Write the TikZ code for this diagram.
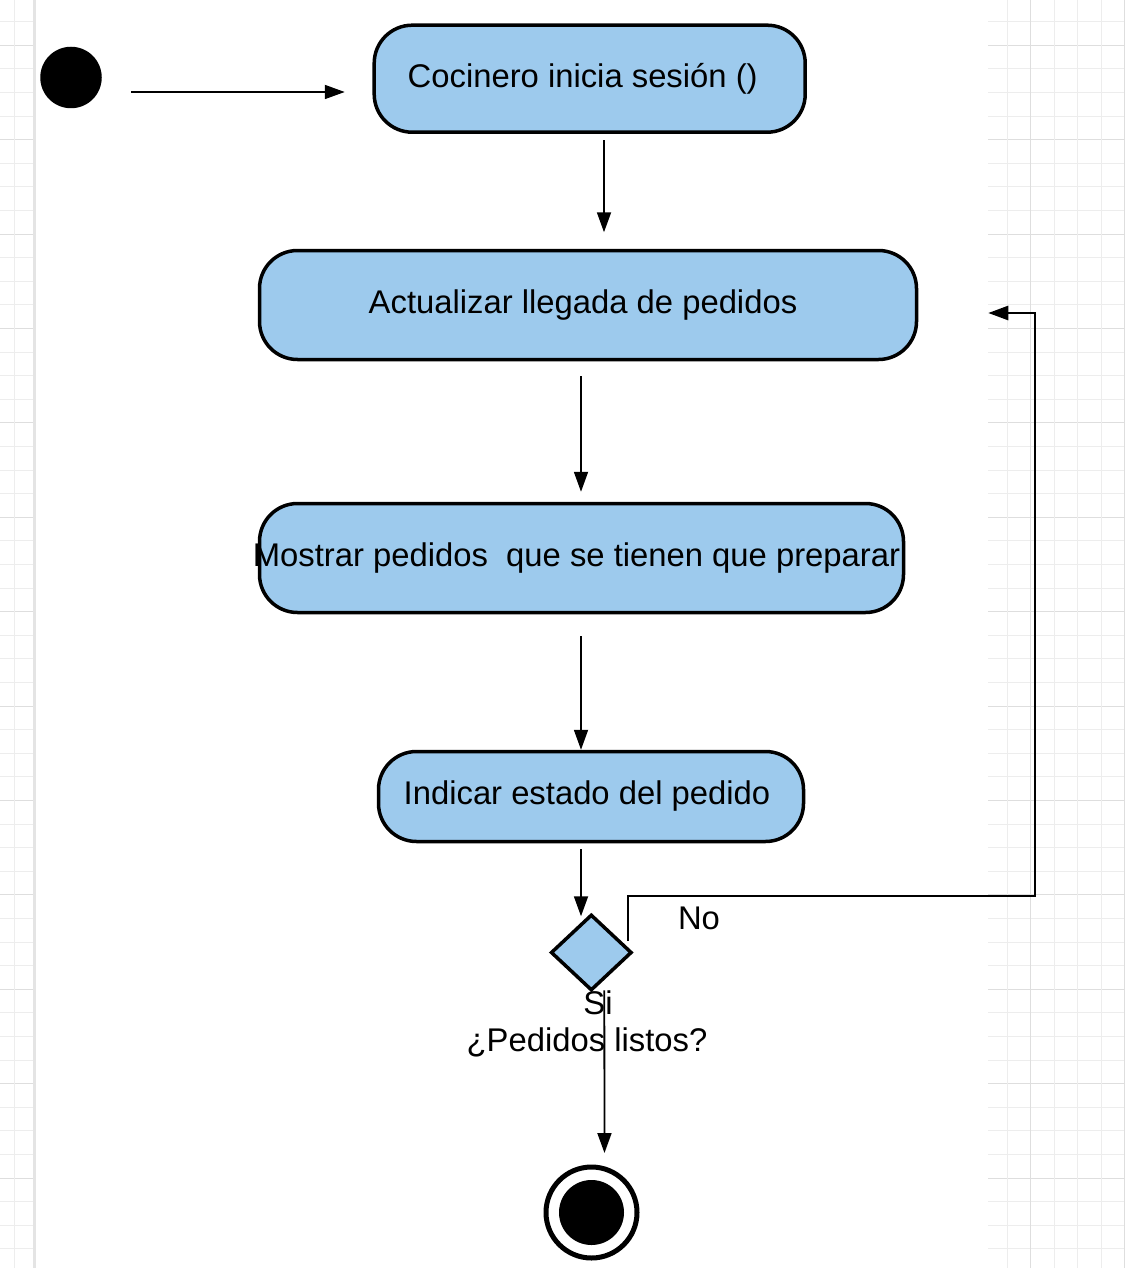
\documentclass[tikz,border=0pt]{standalone}
\usepackage{fontspec}
\setmainfont{Liberation Sans}
\usetikzlibrary{arrows.meta,shapes.geometric}
\definecolor{boxblue}{RGB}{157,202,237}
\definecolor{gridminor}{RGB}{237,237,237}
\definecolor{gridmajor}{RGB}{222,222,222}
\definecolor{gridbar}{RGB}{228,228,228}
\begin{document}
\begin{tikzpicture}[x=1pt,y=-1pt,
  actbox/.style={draw=black, line width=3.5pt, fill=boxblue, rounded corners=38pt, inner sep=0pt, font=\fontsize{32.8}{39}\selectfont},
  arr/.style={line width=1.8pt, -{Triangle[length=20pt,width=14pt]}},
  looparr/.style={line width=2.6pt, -{Triangle[length=20pt,width=14pt]}},
  lbl/.style={font=\fontsize{32.8}{39}\selectfont, inner sep=0pt}]
\useasboundingbox (0,0) rectangle (1125,1268);
\fill[white] (0,0) rectangle (1125,1268);
% grid
\foreach \k in {-1,...,51} {
  \draw[gridminor, line width=1pt] (0,{45.3+23.6*\k}) -- (33,{45.3+23.6*\k});
  \draw[gridminor, line width=1pt] (988,{45.3+23.6*\k}) -- (1125,{45.3+23.6*\k});
}
\foreach \k in {0,4,...,48} {
  \draw[gridmajor, line width=1pt] (0,{45.3+23.6*\k}) -- (33,{45.3+23.6*\k});
  \draw[gridmajor, line width=1pt] (988,{45.3+23.6*\k}) -- (1125,{45.3+23.6*\k});
}
\foreach \x in {14.3,1007.2,1054.2,1077.7,1101.2}
  \draw[gridminor, line width=1pt] (\x,0) -- (\x,1268);
\foreach \x in {1030.7,1124.7}
  \draw[gridmajor, line width=1pt] (\x,0) -- (\x,1268);
\draw[gridbar, line width=3pt] (34,0) -- (34,1268);

% nodes
\node[circle, fill=black, minimum size=61.5pt, inner sep=0pt] (start) at (71,77.5) {};
\node[actbox, minimum width=431pt, minimum height=107pt] (n1) at (589.7,78.7) {\hspace*{-14pt}Cocinero inicia sesión ()};
\node[actbox, minimum width=657pt, minimum height=109pt] (n2) at (588,305) {\hspace*{-10pt}Actualizar llegada de pedidos};
\node[actbox, minimum width=644pt, minimum height=109pt] (n3) at (581.5,558) {\makebox[0pt]{\hspace*{-10pt}Mostrar pedidos\ \ que se tienen que preparar}};
\node[actbox, minimum width=425pt, minimum height=90pt] (n4) at (591,796.5) {\hspace*{-8pt}Indicar estado del pedido};
\node[diamond, draw=black, line width=3.5pt, fill=boxblue, minimum width=81pt, minimum height=76pt, inner sep=0pt] (dec) at (591.3,952.5) {};
\node[circle, draw=black, line width=5pt, minimum size=91pt, inner sep=0pt] (fin) at (591.5,1212.5) {};
\fill[black] (fin.center) circle[radius=32.5pt];

% labels
\node[lbl] (lno) at (699,918) {No};
\node[lbl] (lsi) at (598,1003) {Si};
\node[lbl] (lq) at (587,1042) {¿Pedidos listos?};

% connectors
\coordinate (c1) at (1035,896);
\draw[arr, shorten <=29.5pt, shorten >=27.7pt] ([yshift=-14.5pt]start.east) -- ([yshift=-13.3pt]n1.west);
\draw[arr, shorten <=6.3pt, shorten >=16.5pt] ([xshift=14.3pt]n1.south) -- ([xshift=16pt]n2.north);
\draw[arr, shorten <=15pt, shorten >=10pt] ([xshift=-7pt]n2.south) -- ([xshift=-0.5pt]n3.north);
\draw[arr, shorten <=22pt] ([xshift=-0.5pt]n3.south) -- ([xshift=-10pt]n4.north);
\draw[arr, shorten <=6pt] ([xshift=-10pt]n4.south) -- ([xshift=-10.3pt,yshift=-3.5pt]dec.north);
\draw[looparr] ([xshift=36.7pt,yshift=11.5pt]dec.center) |- (c1) |- ([xshift=70pt,yshift=-8pt]n2.east);
\draw[arr, shorten >=11.5pt] ([xshift=13pt,yshift=2pt]dec.south) -- ([xshift=13pt]fin.north);
\end{tikzpicture}
\end{document}
